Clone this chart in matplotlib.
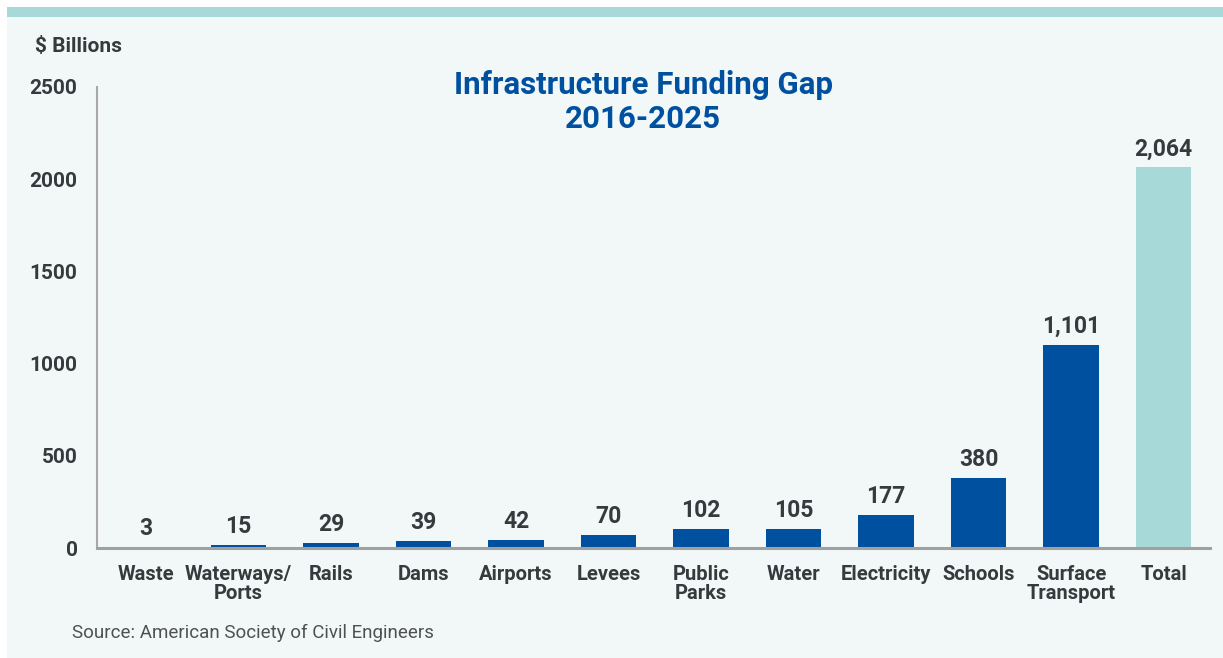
import matplotlib.pyplot as plt
from matplotlib.patches import Rectangle

# data
categories = ["Waste", "Waterways/\nPorts", "Rails", "Dams", "Airports", "Levees",
              "Public\nParks", "Water", "Electricity", "Schools", "Surface\nTransport", "Total"]
values = [3, 15, 29, 39, 42, 70, 102, 105, 177, 380, 1101, 2064]
value_labels = ["3", "15", "29", "39", "42", "70", "102", "105", "177", "380", "1,101", "2,064"]
yticks = [0, 500, 1000, 1500, 2000, 2500]

BLUE = "#0050A0"
TEAL = "#A8D9D9"
BG = "#F2F8F8"
TXT = "#363A3D"

plt.rcParams['font.family'] = ['Roboto', 'DejaVu Sans']

fig = plt.figure(figsize=(12.23, 6.58), dpi=100)
fig.patch.set_facecolor("white")
W, H = 1223, 658

# panel background + top stripe
fig.add_artist(Rectangle((7 / W, 0), 1 - 7 / W, 1 - 17 / H, transform=fig.transFigure,
                         facecolor=BG, edgecolor="none", zorder=0))
fig.add_artist(Rectangle((7 / W, 1 - 17 / H), 1 - 7 / W, 10 / H, transform=fig.transFigure,
                         facecolor=TEAL, edgecolor="none", zorder=0))

ax = fig.add_axes([97 / W, 1 - 548 / H, (1210 - 97) / W, (548 - 87) / H])
ax.set_facecolor("none")

colors = [BLUE] * (len(values) - 1) + [TEAL]
x = range(len(values))
ax.bar(x, values, width=0.6, color=colors, zorder=2)

for i, (v, lab) in enumerate(zip(values, value_labels)):
    ax.text(i, v + 38, lab, ha="center", va="bottom", fontsize=16.5,
            fontweight="bold", color=TXT)

ax.set_xlim(-0.53, 11.5)
ax.set_ylim(0, 2500)
ax.set_yticks(yticks)
ax.set_yticklabels([str(t) for t in yticks], fontsize=15, fontweight="bold", color=TXT)
ax.set_xticks(list(x))
ax.set_xticklabels(categories, fontsize=14.5, fontweight="bold", color=TXT, linespacing=1.0)
ax.tick_params(axis="y", length=0, pad=14)
ax.tick_params(axis="x", length=0, pad=12)

for s in ["top", "right"]:
    ax.spines[s].set_visible(False)
ax.spines["left"].set_color("#A8A8A8")
ax.spines["left"].set_linewidth(1.5)
ax.spines["bottom"].set_color("#A0A0A0")
ax.spines["bottom"].set_linewidth(2.2)

fig.text(35 / W, 1 - 47 / H, "$ Billions", fontsize=15, fontweight="bold",
         color=TXT, va="center", ha="left")
fig.text(643 / W, 1 - 102 / H, "Infrastructure Funding Gap\n2016-2025", fontsize=22.5,
         fontweight="bold", color=BLUE, ha="center", va="center", linespacing=1.2)
fig.text(72 / W, 1 - 633 / H, "Source: American Society of Civil Engineers", fontsize=13.5,
         color="#505050", ha="left", va="center")

fig.savefig("out.png", dpi=100)
